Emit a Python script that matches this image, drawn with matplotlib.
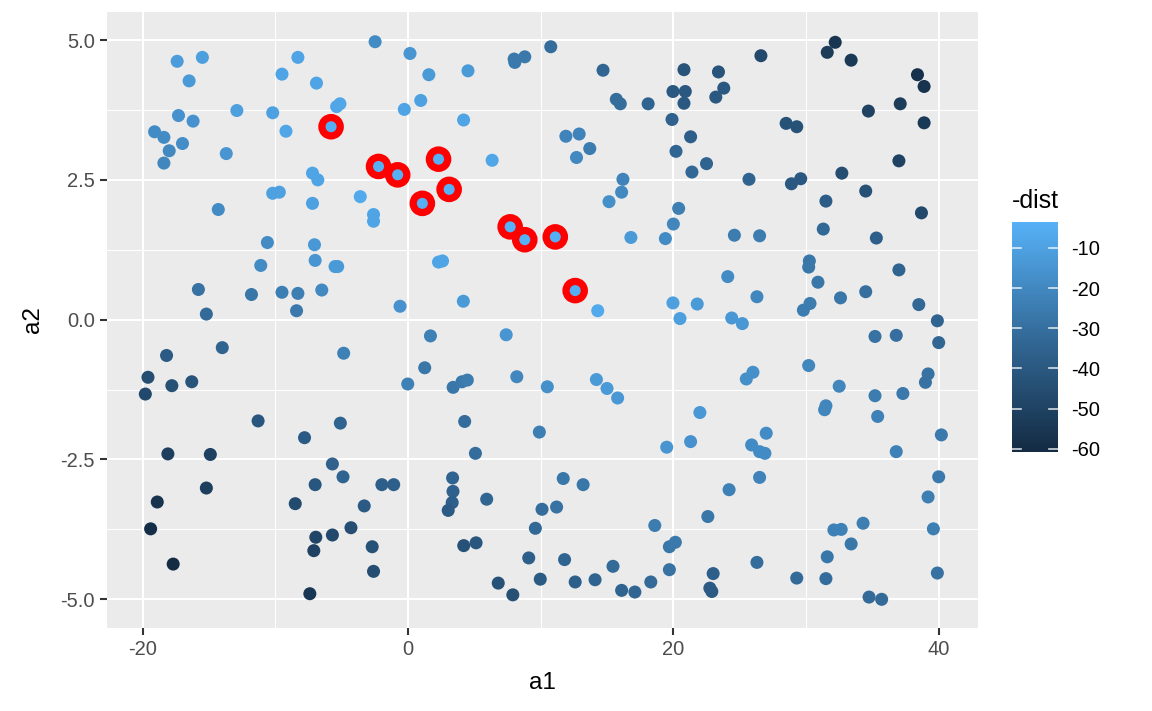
import matplotlib
matplotlib.use("Agg")
import matplotlib.pyplot as plt
from matplotlib.colors import LinearSegmentedColormap, Normalize
from matplotlib.cm import ScalarMappable

plt.rcParams['font.family'] = ['Liberation Sans', 'DejaVu Sans']
plt.rcParams['axes.unicode_minus'] = False

# points: a1, a2 and -dist (colour)
a1 = [-2.48, -17.4, -15.5, -8.3, 0.15, -9.5, -16.5, -6.9, -5.38, -5.13,
      -0.28, -17.3, -12.9, -10.2, -16.2, -5.8, -19.1, -18.4, -9.2, -17.0,
      -18.0, -13.7, -18.4, -2.22, -0.78, -7.2, -6.8, -10.2, -9.7, -3.6,
      -7.2, -2.6, -2.6, -14.3, -10.6, -7.05, -11.1, -7.0, -5.5, -5.3,
      -15.8, -11.8, -9.5, -8.3, -6.5, -15.2, -8.4, -0.6,
      # upper middle
      1.57, 4.52, 0.96, 8.0, 8.05, 8.8, 10.76, 14.7, 20.8, 19.97,
      20.9, 15.7, 16.0, 18.1, 20.8, 4.19, 19.9, 11.9, 12.9, 13.7,
      12.7, 21.3, 20.2, 21.4, 2.3, 6.34, 3.1, 1.08, 16.2, 16.1,
      15.15, 7.7, 8.8, 11.1, 20.4, 20.0, 16.8, 19.4, 2.3, 2.6,
      12.6, 4.17, 14.3, 19.97, 20.5, 21.8,
      # upper right
      32.2, 31.6, 33.4, 26.6, 23.4, 23.8, 23.2, 38.4, 38.9, 37.1,
      34.7, 38.9, 28.5, 29.3, 22.5, 25.7, 28.9, 29.6, 32.7, 37.0,
      34.5, 31.5, 38.7, 31.3, 35.3, 24.6, 26.5, 30.25, 30.2, 37.0,
      30.9, 24.1, 26.3, 24.4, 25.2, 30.3, 29.8, 32.6, 34.5, 38.5,
      39.9,
      # lower left
      -14.0, -18.2, -19.6, -17.8, -16.3, -19.8, -4.85, -0.02, -11.3, -5.1,
      -7.8, -18.1, -14.9, -5.7, -4.9, -7.0, -1.97, -1.08, -15.2, -18.9,
      -8.5, -3.3, -19.4, -4.3, -6.95, -5.7, -7.1, -2.7, -17.7, -2.6,
      -7.4,
      # lower middle
      1.69, 7.4, 1.26, 3.4, 4.07, 4.47, 8.2, 10.5, 14.2, 15.0,
      15.8, 22.0, 19.5, 21.3, 4.27, 9.9, 5.08, 3.36, 3.39, 3.33,
      3.03, 5.93, 11.7, 13.2, 10.1, 11.2, 9.6, 4.2, 5.13, 9.1,
      11.8, 6.8, 7.9, 9.97, 12.6, 14.1, 15.45, 16.1, 17.1, 18.3,
      18.6, 19.7, 20.15, 19.7,
      # lower right
      35.2, 36.8, 40.0, 30.2, 26.0, 25.5, 39.2, 39.0, 32.5, 35.2,
      37.3, 31.5, 31.4, 35.4, 27.0, 25.9, 26.5, 26.9, 40.2, 36.8,
      26.5, 24.2, 40.0, 39.2, 22.6, 34.3, 32.1, 32.65, 39.6, 33.4,
      31.6, 26.3, 23.0, 22.75, 22.9, 29.3, 31.5, 39.9, 34.75, 35.7]

a2 = [4.97, 4.62, 4.69, 4.69, 4.76, 4.39, 4.27, 4.23, 3.81, 3.86,
      3.76, 3.65, 3.74, 3.70, 3.55, 3.45, 3.36, 3.26, 3.37, 3.15,
      3.02, 2.97, 2.80, 2.74, 2.59, 2.62, 2.50, 2.26, 2.28, 2.20,
      2.08, 1.88, 1.76, 1.97, 1.38, 1.34, 0.97, 1.06, 0.95, 0.95,
      0.54, 0.45, 0.49, 0.47, 0.53, 0.10, 0.16, 0.24,
      4.38, 4.45, 3.92, 4.66, 4.60, 4.70, 4.88, 4.46, 4.47, 4.08,
      4.08, 3.94, 3.86, 3.86, 3.87, 3.57, 3.58, 3.28, 3.32, 3.06,
      2.90, 3.27, 3.01, 2.64, 2.87, 2.85, 2.33, 2.08, 2.51, 2.28,
      2.11, 1.66, 1.43, 1.48, 1.99, 1.71, 1.47, 1.45, 1.03, 1.05,
      0.52, 0.33, 0.16, 0.30, 0.02, 0.28,
      4.96, 4.78, 4.64, 4.72, 4.43, 4.14, 3.98, 4.38, 4.17, 3.86,
      3.73, 3.52, 3.51, 3.45, 2.79, 2.51, 2.43, 2.52, 2.62, 2.84,
      2.30, 2.12, 1.91, 1.62, 1.46, 1.51, 1.50, 1.05, 0.94, 0.89,
      0.67, 0.77, 0.41, 0.03, -0.07, 0.29, 0.17, 0.39, 0.50, 0.27,
      -0.02,
      -0.50, -0.64, -1.03, -1.18, -1.11, -1.33, -0.60, -1.15, -1.81, -1.85,
      -2.11, -2.40, -2.41, -2.58, -2.81, -2.95, -2.95, -2.95, -3.01, -3.26,
      -3.29, -3.33, -3.74, -3.72, -3.89, -3.85, -4.13, -4.06, -4.37, -4.50,
      -4.90,
      -0.29, -0.27, -0.86, -1.21, -1.11, -1.08, -1.02, -1.20, -1.07, -1.23,
      -1.40, -1.66, -2.28, -2.18, -1.82, -2.01, -2.39, -2.83, -3.07, -3.27,
      -3.41, -3.21, -2.84, -2.95, -3.39, -3.35, -3.73, -4.04, -3.99, -4.26,
      -4.29, -4.71, -4.92, -4.64, -4.69, -4.65, -4.41, -4.84, -4.87, -4.69,
      -3.68, -4.06, -3.98, -4.47,
      -0.30, -0.28, -0.41, -0.82, -0.94, -1.06, -0.97, -1.12, -1.19, -1.36,
      -1.32, -1.54, -1.61, -1.73, -2.03, -2.24, -2.36, -2.39, -2.06, -2.36,
      -2.82, -3.04, -2.81, -3.17, -3.52, -3.64, -3.76, -3.75, -3.74, -4.01,
      -4.24, -4.34, -4.54, -4.80, -4.86, -4.62, -4.63, -4.53, -4.96, -5.00]

neg_dist = [-19, -12, -11, -9, -15, -9, -13, -9, -8, -8,
            -9, -16, -11, -10, -16, -5, -19, -19, -8, -18,
            -20, -15, -21, -4, -4, -9, -9, -10, -10, -7,
            -10, -9, -9, -19, -19, -14, -19, -15, -13, -13,
            -29, -27, -24, -24, -20, -32, -26, -16,
            -13, -13, -10, -26, -26, -26, -31, -34, -42, -40,
            -40, -31, -31, -35, -40, -9, -36, -22, -22, -25,
            -20, -37, -34, -33, -4, -8, -3.5, -4, -22, -20,
            -17, -3.5, -4, -5, -24, -21, -13, -19, -9, -9,
            -5, -13, -7, -11, -11, -13,
            -56, -53, -54, -47, -42, -40, -40, -58, -57, -53,
            -50, -54, -43, -43, -35, -35, -40, -40, -45, -50,
            -44, -38, -47, -33, -37, -25, -25, -27, -27, -35,
            -27, -19, -21, -14, -14, -25, -25, -27, -30, -33,
            -35,
            -35, -39, -45, -44, -42, -47, -23, -23, -41, -35,
            -39, -52, -50, -36, -35, -41, -37, -37, -52, -57,
            -46, -39, -59, -45, -49, -47, -50, -43, -60.7, -45,
            -55,
            -23, -15, -27, -27, -26, -25, -21, -17, -13, -13,
            -14, -14, -15, -16, -31, -24, -31, -35, -36, -37,
            -39, -34, -27, -27, -31, -29, -33, -43, -41, -37,
            -35, -43, -44, -39, -37, -35, -32, -35, -34, -32,
            -25, -27, -26, -29,
            -29, -30, -34, -21, -17, -17, -29, -29, -21, -25,
            -26, -21, -21, -23, -19, -19, -19, -19, -26, -23,
            -22, -23, -26, -24, -27, -24, -23, -23, -24, -27,
            -27, -31, -37, -39, -39, -32, -31, -29, -32, -32]

# the ten nearest points, ringed in red
near_a1 = [-5.8, -2.22, -0.78, 2.3, 3.1, 1.08, 7.7, 8.8, 11.1, 12.6]
near_a2 = [3.45, 2.74, 2.59, 2.87, 2.33, 2.08, 1.66, 1.43, 1.48, 0.52]

x_ticks = [-20, 0, 20, 40]
y_ticks = [-5.0, -2.5, 0.0, 2.5, 5.0]
cbar_ticks = [-10, -20, -30, -40, -50, -60]

cmap = LinearSegmentedColormap.from_list(
    "gg", ["#132B43", "#336A98", "#56B1F7"])
norm = Normalize(vmin=-60.7, vmax=-3.5)

fig = plt.figure(figsize=(11.52, 7.11), dpi=100)
ax = fig.add_axes([0.0931, 0.1172, 0.7556, 0.8658])
ax.set_facecolor("#EBEBEB")

ax.set_xlim(-22.67, 42.94)
ax.set_ylim(-5.507, 5.5)

for v in [-10, 10, 30]:
    ax.axvline(v, color="white", lw=0.75, zorder=0)
for v in [-3.75, -1.25, 1.25, 3.75]:
    ax.axhline(v, color="white", lw=0.75, zorder=0)
for v in x_ticks:
    ax.axvline(v, color="white", lw=1.5, zorder=0)
for v in y_ticks:
    ax.axhline(v, color="white", lw=1.5, zorder=0)

ax.scatter(a1, a2, c=neg_dist, cmap=cmap, norm=norm, s=88,
           linewidths=0, zorder=2)
ax.scatter(near_a1, near_a2, s=175, facecolors="none", edgecolors="red",
           linewidths=5.2, zorder=3)

for s in ax.spines.values():
    s.set_visible(False)
ax.set_xticks(x_ticks)
ax.set_xticklabels(["-20", "0", "20", "40"])
ax.set_yticks(y_ticks)
ax.set_yticklabels(["-5.0", "-2.5", "0.0", "2.5", "5.0"])
ax.tick_params(colors="#333333", labelcolor="#4D4D4D", labelsize=14.5,
               length=5, width=1.5, pad=4)
ax.set_xlabel("a1", fontsize=17.5, labelpad=9)
ax.set_ylabel("a2", fontsize=17.5, labelpad=12)

# colour bar
cax = fig.add_axes([0.8782, 0.3647, 0.0405, 0.3235])
sm = ScalarMappable(norm=norm, cmap=cmap)
cb = fig.colorbar(sm, cax=cax, ticks=cbar_ticks)
cb.outline.set_visible(False)
cax.tick_params(length=0, labelsize=14.5, labelcolor="black", pad=9)
for t in cbar_ticks:
    cax.plot([0, 0.2], [t, t], color="white", lw=1.2, alpha=0.8,
             transform=cax.get_yaxis_transform())
    cax.plot([0.8, 1.0], [t, t], color="white", lw=1.2, alpha=0.8,
             transform=cax.get_yaxis_transform())
cax.set_title("-dist", fontsize=18, loc="left", pad=10)

fig.savefig("out.png", dpi=100)
